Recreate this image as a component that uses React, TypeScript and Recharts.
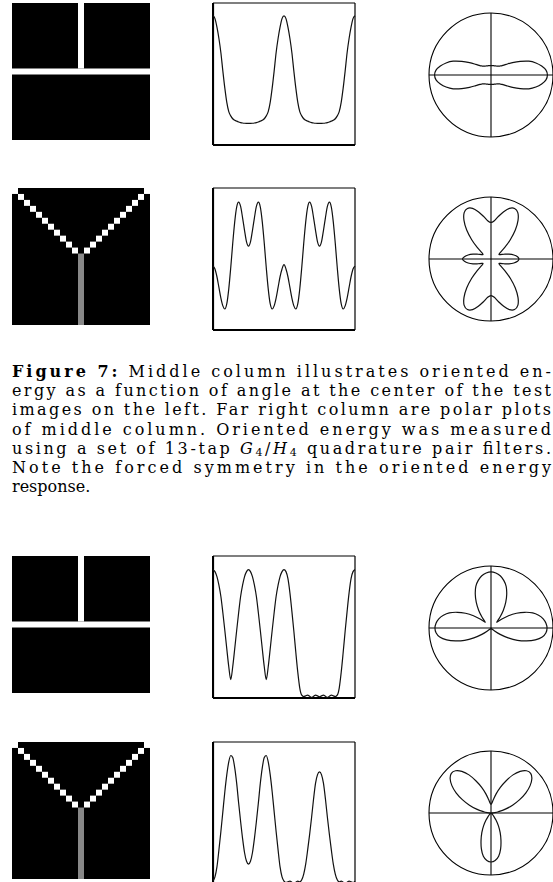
import React from 'react';
import {
  LineChart,
  Line,
  XAxis,
  YAxis,
  ReferenceLine,
  ReferenceArea,
  ScatterChart,
  RadarChart,
  Radar,
  PolarGrid,
  PolarAngleAxis,
  PolarRadiusAxis,
} from 'recharts';

// filter orientation, degrees
const angles = [
  0, 5, 10, 15, 20, 25, 30, 35, 40, 45, 50, 55, 60, 65, 70, 75, 80, 85, 90,
  95, 100, 105, 110, 115, 120, 125, 130, 135, 140, 145, 150, 155, 160, 165, 170, 175, 180,
  185, 190, 195, 200, 205, 210, 215, 220, 225, 230, 235, 240, 245, 250, 255, 260, 265, 270,
  275, 280, 285, 290, 295, 300, 305, 310, 315, 320, 325, 330, 335, 340, 345, 350, 355, 360,
];

// oriented energy at the image centre, one value per angle
const tJunctionG2 = [
  0.91, 0.89, 0.83, 0.75, 0.65, 0.52, 0.40, 0.30, 0.235, 0.205, 0.185, 0.175, 0.168, 0.162, 0.158, 0.155, 0.153, 0.152, 0.152,
  0.152, 0.153, 0.155, 0.158, 0.162, 0.168, 0.175, 0.185, 0.205, 0.235, 0.30, 0.40, 0.52, 0.65, 0.75, 0.83, 0.89, 0.91,
  0.89, 0.83, 0.75, 0.65, 0.52, 0.40, 0.30, 0.235, 0.205, 0.185, 0.175, 0.168, 0.162, 0.158, 0.155, 0.153, 0.152, 0.152,
  0.152, 0.153, 0.155, 0.158, 0.162, 0.168, 0.175, 0.185, 0.205, 0.235, 0.30, 0.40, 0.52, 0.65, 0.75, 0.83, 0.89, 0.91,
];

const yJunctionG2 = [
  0.45, 0.43, 0.375, 0.30, 0.225, 0.17, 0.148, 0.185, 0.29, 0.44, 0.61, 0.76, 0.865, 0.90, 0.87, 0.79, 0.70, 0.62, 0.59,
  0.62, 0.70, 0.79, 0.87, 0.90, 0.865, 0.76, 0.61, 0.44, 0.29, 0.185, 0.148, 0.17, 0.225, 0.30, 0.375, 0.43, 0.46,
  0.43, 0.375, 0.30, 0.225, 0.17, 0.148, 0.185, 0.29, 0.44, 0.61, 0.76, 0.865, 0.90, 0.87, 0.79, 0.70, 0.62, 0.59,
  0.62, 0.70, 0.79, 0.87, 0.90, 0.865, 0.76, 0.61, 0.44, 0.29, 0.185, 0.148, 0.17, 0.225, 0.30, 0.375, 0.43, 0.45,
];

const tJunctionG4 = [
  0.904, 0.89, 0.855, 0.795, 0.715, 0.60, 0.475, 0.345, 0.22, 0.13, 0.22, 0.345, 0.475, 0.60, 0.715, 0.795, 0.855, 0.89, 0.904,
  0.89, 0.855, 0.795, 0.715, 0.60, 0.475, 0.345, 0.22, 0.13, 0.22, 0.345, 0.475, 0.60, 0.715, 0.795, 0.855, 0.89, 0.904,
  0.89, 0.84, 0.74, 0.61, 0.47, 0.32, 0.18, 0.07, 0.02, 0.01, 0.015, 0.02, 0.012, 0.005, 0.012, 0.02, 0.015, 0.008,
  0.015, 0.02, 0.012, 0.005, 0.012, 0.02, 0.015, 0.01, 0.02, 0.07, 0.18, 0.32, 0.47, 0.61, 0.74, 0.84, 0.89, 0.904,
];

const yJunctionG4 = [
  0.02, 0.05, 0.12, 0.24, 0.37, 0.51, 0.65, 0.77, 0.86, 0.905, 0.89, 0.82, 0.71, 0.57, 0.44, 0.32, 0.22, 0.16, 0.14,
  0.16, 0.22, 0.32, 0.44, 0.57, 0.71, 0.82, 0.89, 0.905, 0.86, 0.77, 0.65, 0.51, 0.37, 0.24, 0.12, 0.05, 0.02,
  0.01, 0.015, 0.02, 0.012, 0.005, 0.012, 0.02, 0.015, 0.03, 0.07, 0.14, 0.24, 0.35, 0.47, 0.60, 0.71, 0.77, 0.79,
  0.77, 0.71, 0.60, 0.47, 0.35, 0.24, 0.14, 0.07, 0.03, 0.015, 0.02, 0.012, 0.005, 0.012, 0.02, 0.015, 0.01, 0.02,
];

// 23 x 23 pixel test images: [col, row] of each lit pixel
const imagePixels = 23;
const tBars = [
  { x1: 0, x2: 23, y1: 11, y2: 12 },
  { x1: 11, x2: 12, y1: 0, y2: 11 },
];
const yArmPixels = [
  [0, 0], [1, 1], [2, 2], [3, 3], [4, 4], [5, 5], [6, 6], [7, 7], [8, 8], [9, 9], [10, 10],
  [22, 0], [21, 1], [20, 2], [19, 3], [18, 4], [17, 5], [16, 6], [15, 7], [14, 8], [13, 9], [12, 10],
];
const yStem = { x1: 11, x2: 12, y1: 11, y2: 23 };

const rows = [
  { top: 3, image: 'T', energy: tJunctionG2 },
  { top: 187.5, image: 'Y', energy: yJunctionG2 },
  { top: 556, image: 'T', energy: tJunctionG4 },
  { top: 741.5, image: 'Y', energy: yJunctionG4 },
];

type Seg = { text: string; bold?: boolean; italic?: boolean; sub?: boolean };
const captionLines: Seg[][] = [
  [{ text: 'Figure 7:', bold: true }, { text: ' Middle column illustrates oriented en-' }],
  [{ text: 'ergy as a function of angle at the center of the test' }],
  [{ text: 'images on the left. Far right column are polar plots' }],
  [{ text: 'of middle column. Oriented energy was measured' }],
  [
    { text: 'using a set of 13-tap ' },
    { text: 'G', italic: true },
    { text: '4', sub: true },
    { text: '/' },
    { text: 'H', italic: true },
    { text: '4', sub: true },
    { text: ' quadrature pair filters.' },
  ],
  [{ text: 'Note the forced symmetry in the oriented energy' }],
  [{ text: 'response.' }],
];

const noMargin = { top: 0, right: 0, bottom: 0, left: 0 };

function TestImage({ top, kind }: { top: number; kind: string }) {
  const white = { fill: '#fff', fillOpacity: 1, stroke: 'none' };
  return (
    <div style={{ position: 'absolute', left: 12, top }}>
      <ScatterChart width={138} height={137} margin={noMargin}>
        <XAxis type="number" dataKey="col" domain={[0, imagePixels]} hide allowDataOverflow />
        <YAxis type="number" dataKey="row" domain={[0, imagePixels]} reversed hide allowDataOverflow />
        <ReferenceArea x1={0} x2={imagePixels} y1={0} y2={imagePixels} fill="#000" fillOpacity={1} stroke="none" />
        {kind === 'T' &&
          tBars.map((b, i) => <ReferenceArea key={i} {...b} {...white} />)}
        {kind === 'Y' && <ReferenceArea {...yStem} fill="#888" fillOpacity={1} stroke="none" />}
        {kind === 'Y' &&
          yArmPixels.map(([c, r]) => (
            <ReferenceArea key={`${c}-${r}`} x1={c} x2={c + 1} y1={r} y2={r + 1} {...white} />
          ))}
      </ScatterChart>
    </div>
  );
}

function EnergyPlot({ top, energy }: { top: number; energy: number[] }) {
  const data = angles.map((angle, i) => ({ angle, energy: energy[i] }));
  return (
    <div style={{ position: 'absolute', left: 212, top: top - 1 }}>
      <LineChart width={144} height={144} data={data} margin={{ top: 1, right: 1, bottom: 1, left: 1 }}>
        <XAxis type="number" dataKey="angle" domain={[0, 360]} hide />
        <YAxis type="number" domain={[0, 1]} hide />
        <ReferenceLine x={360} stroke="#000" strokeWidth={1.2} />
        <ReferenceLine y={1} stroke="#000" strokeWidth={1.2} />
        <ReferenceLine x={0} stroke="#000" strokeWidth={2.2} />
        <ReferenceLine y={0} stroke="#000" strokeWidth={2.2} />
        <Line
          type="monotone"
          dataKey="energy"
          stroke="#111"
          strokeWidth={1.2}
          dot={false}
          isAnimationActive={false}
        />
      </LineChart>
    </div>
  );
}

// closed Catmull-Rom curve through the radar vertices
function smoothClosedPath(pts: { x: number; y: number }[]) {
  const n = pts.length;
  let d = `M${pts[0].x},${pts[0].y}`;
  for (let i = 0; i < n; i++) {
    const p0 = pts[(i - 1 + n) % n];
    const p1 = pts[i];
    const p2 = pts[(i + 1) % n];
    const p3 = pts[(i + 2) % n];
    const c1x = p1.x + (p2.x - p0.x) / 6;
    const c1y = p1.y + (p2.y - p0.y) / 6;
    const c2x = p2.x - (p3.x - p1.x) / 6;
    const c2y = p2.y - (p3.y - p1.y) / 6;
    d += ` C${c1x},${c1y} ${c2x},${c2y} ${p2.x},${p2.y}`;
  }
  return d + 'Z';
}

function PolarPlot({ cy, energy }: { cy: number; energy: number[] }) {
  // 360 coincides with 0 on the circle, so the last sample is left out
  const data = angles.slice(0, -1).map((angle, i) => ({ angle, energy: energy[i] }));
  return (
    <div style={{ position: 'absolute', left: 491 - 70, top: cy - 70 }}>
      <RadarChart
        width={140}
        height={140}
        data={data}
        cx={70}
        cy={70}
        outerRadius={62}
        startAngle={0}
        endAngle={360}
        margin={noMargin}
      >
        <PolarGrid
          gridType="circle"
          polarRadius={[62]}
          polarAngles={[0, 90, 180, 270]}
          stroke="#000"
          strokeWidth={1.1}
        />
        <PolarAngleAxis
          dataKey="angle"
          type="number"
          domain={[0, 360]}
          tick={false}
          tickLine={false}
          axisLine={false}
        />
        <PolarRadiusAxis domain={[0, 0.95]} tick={false} axisLine={false} />
        <Radar
          dataKey="energy"
          stroke="#000"
          fill="none"
          isAnimationActive={false}
          shape={(props: any) => (
            <path d={smoothClosedPath(props.points)} fill="none" stroke="#111" strokeWidth={1.2} />
          )}
        />
      </RadarChart>
    </div>
  );
}

function Caption() {
  return (
    <svg width={553} height={150} style={{ position: 'absolute', left: 0, top: 350 }}>
      {captionLines.map((segs, i) => {
        const last = i === captionLines.length - 1;
        let shifted = false;
        return (
          <text
            key={i}
            x={12}
            y={27 + i * 19.2}
            fontFamily="'DejaVu Serif', serif"
            fontSize={16}
            fill="#000"
            textLength={last ? undefined : 539}
            lengthAdjust="spacing"
          >
            {segs.map((s, j) => {
              let dy = 0;
              if (s.sub && !shifted) {
                dy = 2.5;
                shifted = true;
              } else if (!s.sub && shifted) {
                dy = -2.5;
                shifted = false;
              }
              return (
                <tspan
                  key={j}
                  dy={dy || undefined}
                  fontWeight={s.bold ? 'bold' : undefined}
                  fontStyle={s.italic ? 'italic' : undefined}
                  fontSize={s.sub ? 11 : undefined}
                >
                  {s.text}
                </tspan>
              );
            })}
          </text>
        );
      })}
    </svg>
  );
}

export default function App() {
  return (
    <div
      style={{
        position: 'absolute',
        left: 0,
        top: 0,
        width: 553,
        height: 882,
        overflow: 'hidden',
        background: '#fff',
      }}
    >
      {rows.map((row, i) => (
        <React.Fragment key={i}>
          <TestImage top={row.top} kind={row.image} />
          <EnergyPlot top={row.top} energy={row.energy} />
          <PolarPlot cy={row.top + 71.5} energy={row.energy} />
        </React.Fragment>
      ))}
      <Caption />
    </div>
  );
}
